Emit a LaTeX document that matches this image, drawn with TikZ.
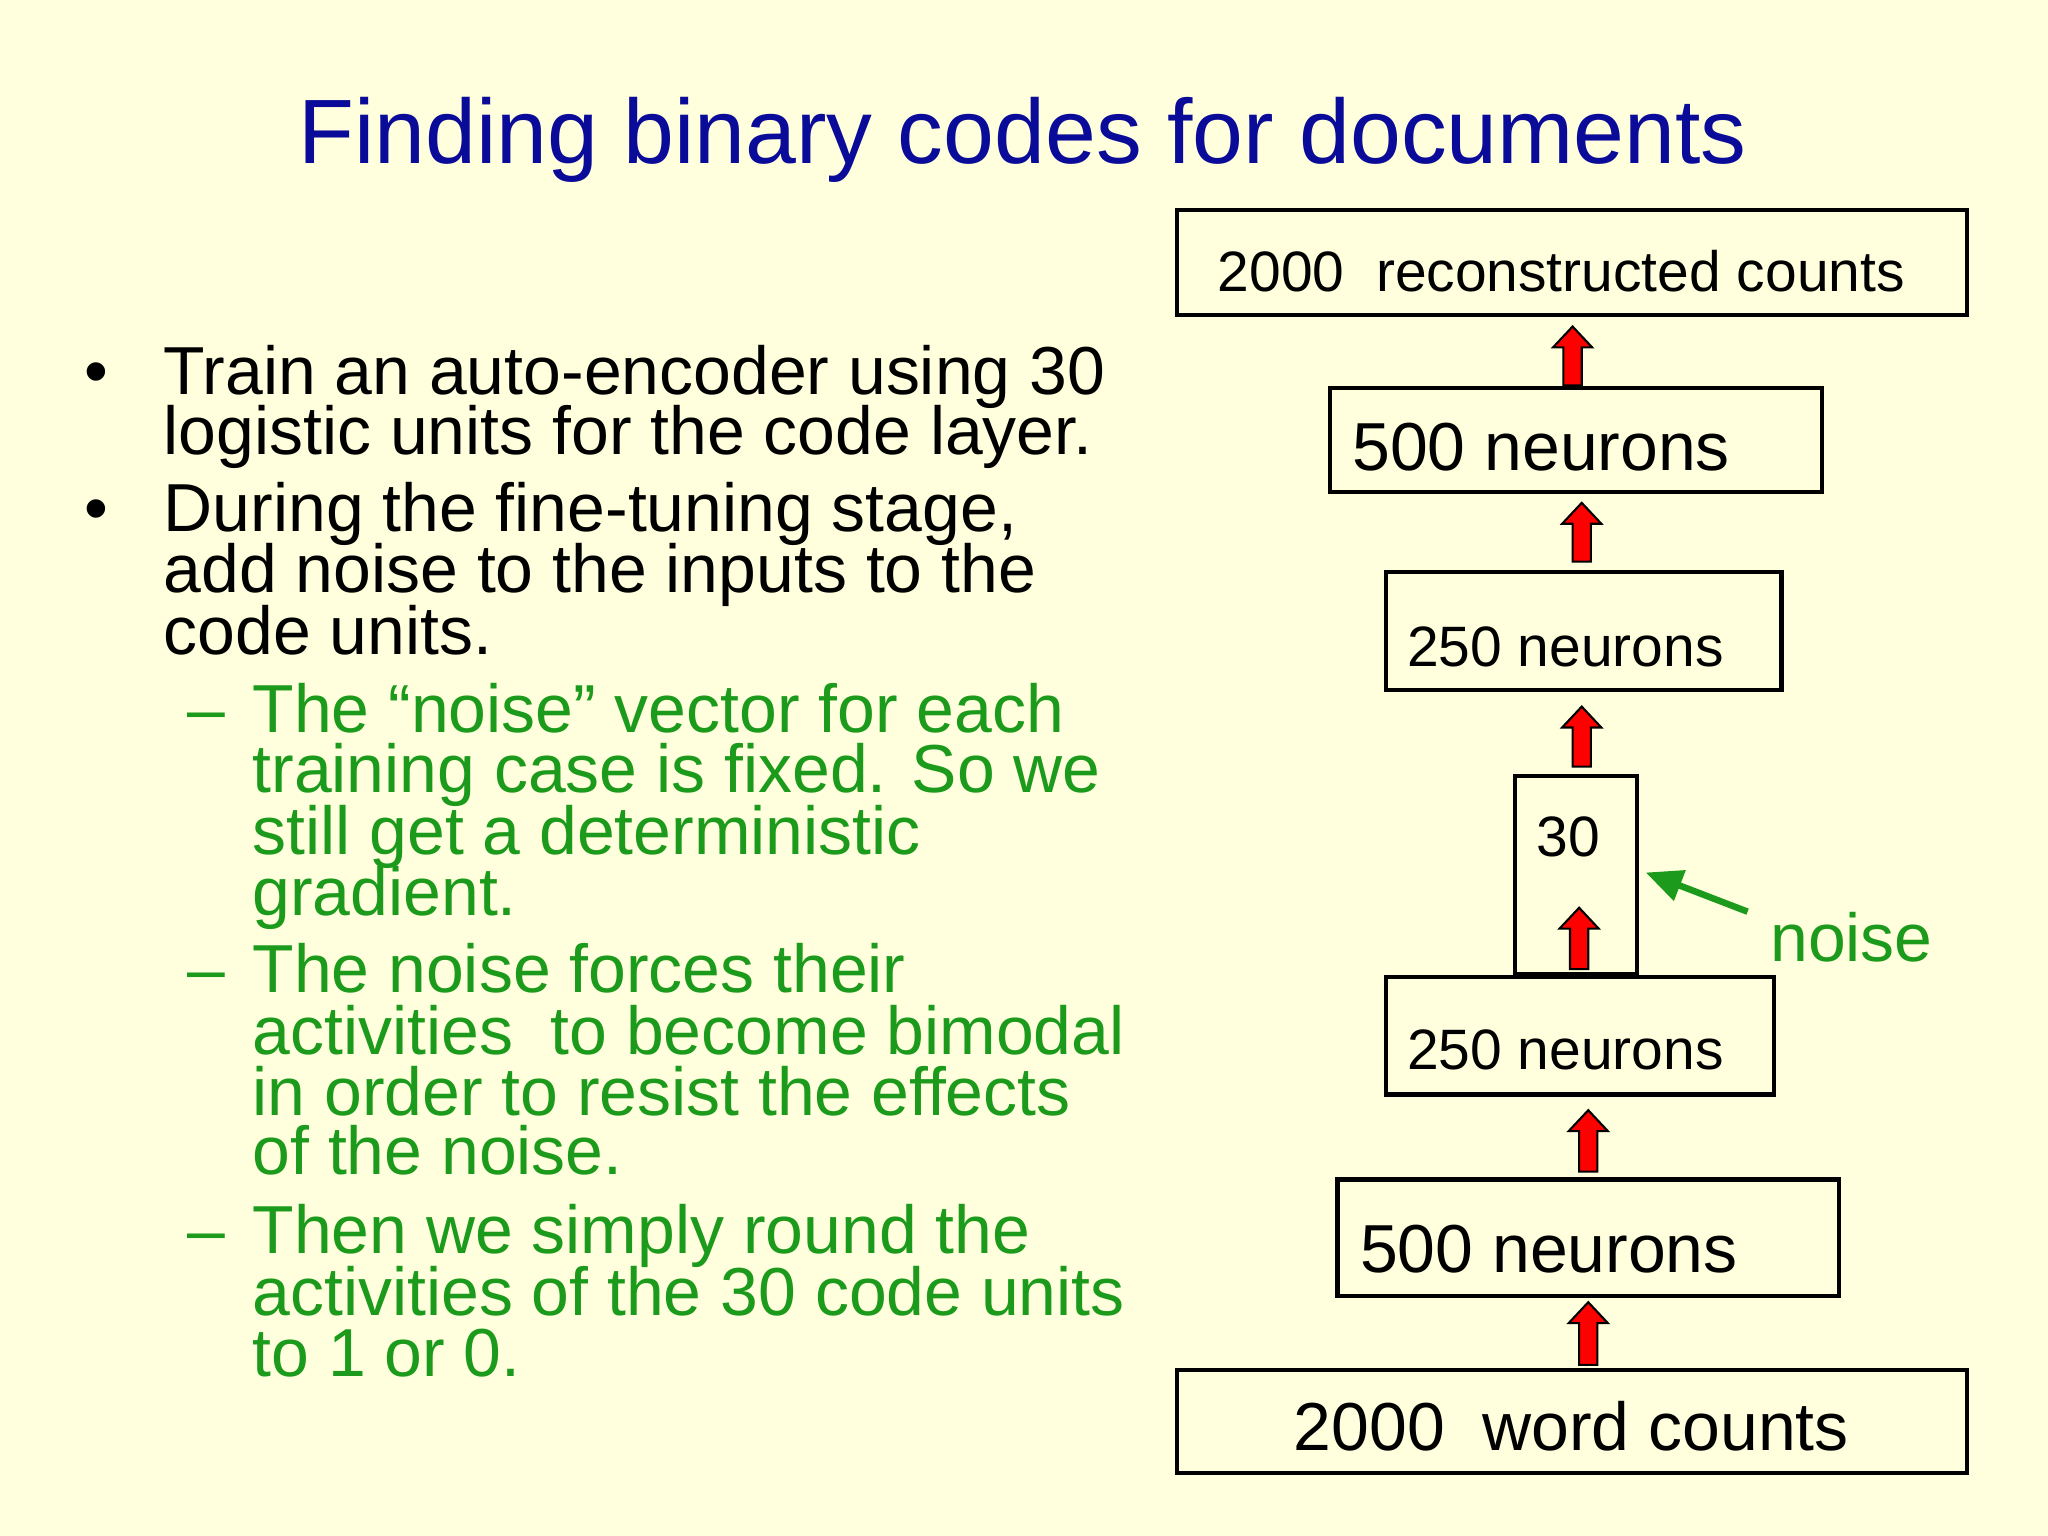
\documentclass[tikz,border=0pt]{standalone}
\usepackage{fontspec}
\usetikzlibrary{arrows.meta}
\setmainfont{Liberation Sans}
\definecolor{bg}{HTML}{FFFFDD}
\definecolor{ttl}{HTML}{0B0B99}
\definecolor{grn}{HTML}{1C9A1C}
\begin{document}
\begin{tikzpicture}[x=0.5pt,y=-0.5pt,
  ln/.style={anchor=base west,inner sep=0pt,text height=0.62em,text depth=0.1em,font=\fontsize{26}{26}\selectfont},
  gl/.style={ln,text=grn}]
\fill[bg] (0,0) rectangle (1568,1176);
\useasboundingbox (0,0) rectangle (1568,1176);
\newcommand\uparr[3]{\draw[fill=red,line width=0.8pt] (#1-7,#3)--(#1+7,#3)--(#1+7,#2+16)--(#1+15,#2+16)--(#1,#2)--(#1-15,#2+16)--(#1-7,#2+16)--cycle;}
\node[text=ttl,font=\fontsize{35}{35}\selectfont] (title) at (783,107) {Finding binary codes for documents};
% boxes
\draw[line width=1.6pt] (901,161) rectangle (1506,241);
\draw[line width=1.6pt] (1018,297) rectangle (1395,377);
\draw[line width=1.6pt] (1061,438) rectangle (1364,528);
\draw[line width=1.6pt] (1160,594) rectangle (1253,746);
\draw[line width=1.6pt] (1061,748) rectangle (1358,838);
\draw[line width=1.6pt] (1024,903) rectangle (1408,992);
\draw[line width=1.6pt] (901,1049) rectangle (1506,1128);
\node[ln,font=\fontsize{21.8}{22}\selectfont] (t1) at (932,223) {2000\ \ reconstructed counts};
\node[ln,font=\fontsize{26}{26}\selectfont] (t2) at (1035,360) {500 neurons};
\node[ln,font=\fontsize{21.8}{22}\selectfont] (t3) at (1077,510) {250 neurons};
\node[ln,font=\fontsize{21.8}{22}\selectfont] (t4) at (1176,656) {30};
\node[ln,font=\fontsize{21.8}{22}\selectfont] (t5) at (1077,819) {250 neurons};
\node[ln,font=\fontsize{26}{26}\selectfont] (t6) at (1041,974) {500 neurons};
\node[font=\fontsize{26}{26}\selectfont,inner sep=0pt] (t7) at (1203,1092) {2000\ \ word counts};
\uparr{1204}{250}{295}
\uparr{1211}{385}{430}
\uparr{1211}{541}{587}
\uparr{1209}{695}{742}
\uparr{1216}{850}{897}
\uparr{1216}{997}{1045}
\coordinate (ns) at (1338,698);
\coordinate (ne) at (1260,668);
\draw[grn,line width=2.5pt,-{Triangle[length=14pt,width=12pt]}] (ns) -- (ne);
\node[gl,font=\fontsize{26}{26}\selectfont] (noise) at (1355,736) {noise};
% bullets
\node[ln] (b1) at (64,302) {•};
\node[ln] (b2) at (64,407) {•};
\node[ln] (l1) at (125,302) {Train an auto-encoder using 30};
\node[ln] (l2) at (125,348) {logistic units for the code layer.};
\node[ln] (l3) at (125,407) {During the fine-tuning stage,};
\node[ln] (l4) at (125,454) {add noise to the inputs to the};
\node[ln] (l5) at (125,501) {code units.};
\node[gl] (d1) at (143,561) {–};
\node[gl] (d2) at (143,760) {–};
\node[gl] (d3) at (143,960) {–};
\node[gl] (g1) at (193,561) {The “noise” vector for each};
\node[gl] (g2) at (193,607) {training case is fixed. So we};
\node[gl] (g3) at (193,654) {still get a deterministic};
\node[gl] (g4) at (193,701) {gradient.};
\node[gl] (g5) at (193,760) {The noise forces their};
\node[gl] (g6) at (193,807) {activities\ \ to become bimodal};
\node[gl] (g7) at (193,854) {in order to resist the effects};
\node[gl] (g8) at (193,899) {of the noise.};
\node[gl] (g9) at (193,960) {Then we simply round the};
\node[gl] (g10) at (193,1007) {activities of the 30 code units};
\node[gl] (g11) at (193,1054) {to 1 or 0.};
\end{tikzpicture}
\end{document}
